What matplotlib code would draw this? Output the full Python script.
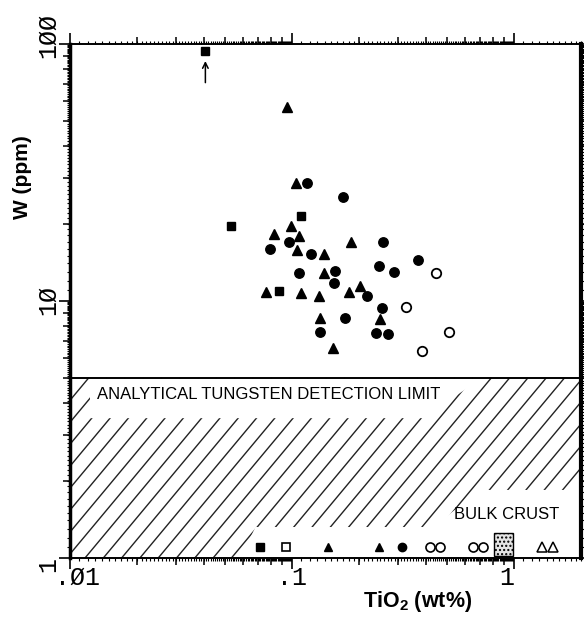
import numpy as np
import matplotlib
matplotlib.use('Agg')
import matplotlib.pyplot as plt
import matplotlib.transforms as mtransforms
from matplotlib.patches import Rectangle, Polygon
from matplotlib.ticker import FixedLocator, NullFormatter

plt.rcParams['mathtext.fontset'] = 'custom'
plt.rcParams['mathtext.bf'] = 'Liberation Sans:bold'
plt.rcParams['mathtext.rm'] = 'Liberation Sans'

# --- data (TiO2 wt%, W ppm) ---
sq_x = [0.0407, 0.0531, 0.1093, 0.0872]
sq_y = [94.0, 19.5, 21.5, 10.9]

tri_x = [0.0951, 0.1037, 0.0984, 0.0828, 0.1073, 0.1836, 0.1048, 0.1392, 0.1392,
         0.0767, 0.1093, 0.1321, 0.1805, 0.2016, 0.1335, 0.2491, 0.1535]
tri_y = [56.7, 28.7, 19.5, 18.2, 17.9, 16.9, 15.8, 15.2, 12.8,
         10.8, 10.7, 10.5, 10.8, 11.4, 8.6, 8.5, 6.55]

circ_x = [0.1171, 0.1703, 0.0967, 0.258, 0.0794, 0.1221, 0.370, 0.1073, 0.1555,
          0.2465, 0.288, 0.1545, 0.2185, 0.2536, 0.1732, 0.1335, 0.238, 0.269]
circ_y = [28.7, 25.5, 16.9, 16.9, 16.0, 15.3, 14.5, 12.8, 13.1,
          13.7, 13.0, 11.7, 10.5, 9.42, 8.57, 7.6, 7.48, 7.42]

ocirc_x = [0.4445, 0.3265, 0.507, 0.3832]
ocirc_y = [12.9, 9.5, 7.55, 6.41]

# bulk crust estimates (below detection limit row)
crust_y = 1.1
crust_fsq_x = [0.0716]
crust_osq_x = [0.0935]
crust_tri_x = [0.1457, 0.2465]
crust_circ_x = [0.311]
crust_ocirc_x = [0.4175, 0.4635, 0.651, 0.727]
crust_otri_x = [1.334, 1.495]
crust_box_x = [0.81, 0.99]
crust_box_y = [1.02, 1.25]

detection_limit = 5.0

xtick_vals = [0.01, 0.1, 1]
xtick_labels = ['.Ø1', '.1', '1']
ytick_vals = [1, 10, 100]
ytick_labels = ['1', '1Ø', '1ØØ']

fig = plt.figure(figsize=(5.84, 6.22), dpi=100)
W_px, H_px = 511, 514
ax = fig.add_axes([70 / 584, 1 - 558 / 622, W_px / 584, H_px / 622])
ax.set_xscale('log')
ax.set_yscale('log')
ax.set_xlim(0.01, 2.0)
ax.set_ylim(1, 100)

# ticks: decades long, fine ticks every 0.1 of mantissa
mant = np.round(np.arange(1.1, 10.0, 0.1), 1)
ax.xaxis.set_major_locator(FixedLocator(xtick_vals))
ax.yaxis.set_major_locator(FixedLocator(ytick_vals))
ax.xaxis.set_minor_locator(FixedLocator([m * 10.0 ** e for e in range(-2, 1) for m in mant]))
ax.yaxis.set_minor_locator(FixedLocator([m * 10.0 ** e for e in range(0, 2) for m in mant]))
ax.xaxis.set_major_formatter(NullFormatter())
ax.yaxis.set_major_formatter(NullFormatter())
ax.xaxis.set_minor_formatter(NullFormatter())
ax.yaxis.set_minor_formatter(NullFormatter())
ax.tick_params(which='both', direction='out', top=True, right=True, color='black')
ax.tick_params(which='major', length=8, width=1.2)
ax.tick_params(which='minor', length=2.2, width=0.8)
for side, lw in [('left', 2.5), ('right', 3), ('top', 1.4), ('bottom', 1.4)]:
    ax.spines[side].set_linewidth(lw)

# medium ticks at the integer mantissas
ints = [m * 10.0 ** e for e in range(-2, 1) for m in range(2, 10)]
ints = [v for v in ints if v < 2.0]
yints = [m * 10.0 ** e for e in range(0, 2) for m in range(2, 10)]
kw = dict(ls='none', color='black', ms=5, mew=1.1, clip_on=False, zorder=6)
ax.plot(ints, [1] * len(ints), marker=3, **kw)
ax.plot(ints, [100] * len(ints), marker=2, **kw)
ax.plot([0.01] * len(yints), yints, marker=0, **kw)
ax.plot([2.0] * len(yints), yints, marker=1, **kw)

# hatched zone below the detection limit
band = np.log10(detection_limit) / 2.0
slope = 1.2
band_px = band * H_px
for x0 in np.arange(-band_px / slope, W_px, 18.3):
    ax.plot([x0 / W_px, (x0 + band_px / slope) / W_px], [0, band], transform=ax.transAxes,
            color='#222222', lw=1.0, zorder=1)
ax.axhline(detection_limit, color='black', lw=1.4, zorder=3)

# blank areas behind the labels
ax.add_patch(Polygon([(0.0123, 3.5), (0.0123, detection_limit), (0.71, detection_limit), (0.392, 3.5)],
                     closed=True, facecolor='white', edgecolor='none', zorder=2))
ax.add_patch(Polygon([(0.0585, 1.0), (0.0684, 1.32), (0.435, 1.32), (0.695, 1.84), (2.0, 1.84), (2.0, 1.0)],
                     closed=True, facecolor='white', edgecolor='none', zorder=2))

ax.text(0.01324, 4.31, 'ANALYTICAL TUNGSTEN DETECTION LIMIT', family='Liberation Sans',
        fontsize=12, va='center', ha='left', zorder=4)
ax.text(0.536, 1.47, 'BULK CRUST', family='Liberation Sans', fontsize=12,
        va='center', ha='left', zorder=4)

# sample points
ax.plot(sq_x, sq_y, 's', color='black', ms=6.3, zorder=5)
ax.plot(tri_x, tri_y, '^', color='black', ms=7.2, zorder=5)
ax.plot(circ_x, circ_y, 'o', color='black', ms=6.8, zorder=5)
ax.plot(ocirc_x, ocirc_y, 'o', mfc='white', mec='black', mew=1.3, ms=6.8, zorder=5)

ax.annotate('', xy=(sq_x[0], 88), xytext=(sq_x[0], 69),
            arrowprops=dict(arrowstyle='->', color='black', lw=1.1), zorder=5)

# bulk crust row
ax.plot(crust_fsq_x, [crust_y] * len(crust_fsq_x), 's', color='black', ms=6, zorder=5)
ax.plot(crust_osq_x, [crust_y] * len(crust_osq_x), 's', mfc='white', mec='black', mew=1.2, ms=6, zorder=5)
ax.plot(crust_tri_x, [crust_y] * len(crust_tri_x), '^', color='black', ms=6, zorder=5)
ax.plot(crust_circ_x, [crust_y] * len(crust_circ_x), 'o', color='black', ms=6, zorder=5)
ax.plot(crust_ocirc_x, [crust_y] * len(crust_ocirc_x), 'o', mfc='white', mec='black', mew=1.2, ms=6.5, zorder=5)
ax.plot(crust_otri_x, [crust_y] * len(crust_otri_x), '^', mfc='white', mec='black', mew=1.1, ms=6.5, zorder=5)
ax.add_patch(Rectangle((crust_box_x[0], crust_box_y[0]), crust_box_x[1] - crust_box_x[0],
                       crust_box_y[1] - crust_box_y[0], facecolor='#e4e4e4', edgecolor='black',
                       hatch='....', lw=1.0, zorder=5))

# plotter-style tick labels
xtr = mtransforms.offset_copy(mtransforms.blended_transform_factory(ax.transData, ax.transAxes),
                              fig=fig, x=-15, y=-8, units='dots')
for v, lab in zip(xtick_vals, xtick_labels):
    ax.text(v, 0, lab, transform=xtr, ha='left', va='top', fontsize=18,
            family=['Liberation Mono', 'DejaVu Sans Mono'], clip_on=False)
ytr = mtransforms.offset_copy(mtransforms.blended_transform_factory(ax.transAxes, ax.transData),
                              fig=fig, x=-22, y=-14, units='dots')
for v, lab in zip(ytick_vals, ytick_labels):
    ax.text(0, v, lab, transform=ytr, ha='center', va='bottom', rotation=90, fontsize=18,
            family=['Liberation Mono', 'DejaVu Sans Mono'], clip_on=False)

fig.text(22 / 584, 1 - 177 / 622, 'W (ppm)', rotation=90, ha='center', va='center',
         fontsize=15, fontweight='bold', family='Liberation Sans')
fig.text(418 / 584, 1 - 601 / 622, r'TiO$_\mathbf{2}$ (wt%)', ha='center', va='center',
         fontsize=15.5, fontweight='bold', family='Liberation Sans')

fig.savefig('out.png', dpi=100)
